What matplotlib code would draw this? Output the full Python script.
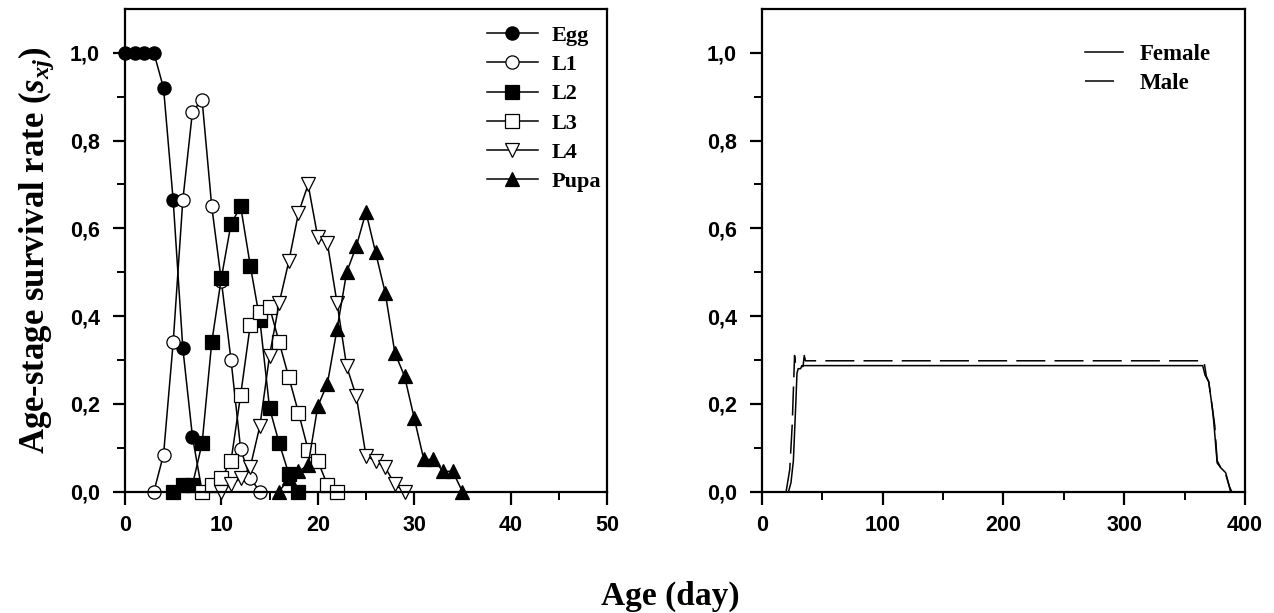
import matplotlib.pyplot as plt

# --------------------------------------------------------------
# Data
# --------------------------------------------------------------

egg_age = [0, 1, 2, 3, 4, 5, 6, 7, 8]
egg_sxj = [1.0, 1.0, 1.0, 1.0, 0.92, 0.664, 0.327, 0.125, 0.0]

l1_age = [3, 4, 5, 6, 7, 8, 9, 10, 11, 12, 13, 14]
l1_sxj = [0.0, 0.084, 0.34, 0.664, 0.866, 0.893, 0.65, 0.48, 0.30, 0.097, 0.03, 0.0]

l2_age = [5, 6, 7, 8, 9, 10, 11, 12, 13, 14, 15, 16, 17, 18]
l2_sxj = [0.0, 0.015, 0.015, 0.11, 0.34, 0.487, 0.61, 0.65, 0.515, 0.39, 0.19, 0.11, 0.04, 0.0]

l3_age = [8, 9, 10, 11, 12, 13, 14, 15, 16, 17, 18, 19, 20, 21, 22]
l3_sxj = [0.0, 0.015, 0.03, 0.07, 0.22, 0.38, 0.41, 0.42, 0.34, 0.26, 0.18, 0.095, 0.07, 0.015, 0.0]

l4_age = [10, 11, 12, 13, 14, 15, 16, 17, 18, 19, 20, 21, 22, 23, 24, 25, 26, 27, 28, 29]
l4_sxj = [0.0, 0.016, 0.03, 0.056, 0.15, 0.31, 0.43, 0.525, 0.635, 0.70, 0.58, 0.566,
          0.43, 0.285, 0.217, 0.082, 0.069, 0.055, 0.016, 0.0]

pupa_age = [16, 17, 18, 19, 20, 21, 22, 23, 24, 25, 26, 27, 28, 29, 30, 31, 32, 33, 34, 35]
pupa_sxj = [0.0, 0.03, 0.046, 0.06, 0.194, 0.246, 0.37, 0.50, 0.559, 0.637, 0.545, 0.453,
            0.316, 0.263, 0.168, 0.073, 0.073, 0.046, 0.046, 0.0]

female_age = [22, 24, 26, 28, 29, 30, 32, 33, 365, 367, 370, 373, 374, 377, 380, 384, 387, 388]
female_sxj = [0.0, 0.02, 0.07, 0.2, 0.27, 0.28, 0.28, 0.287, 0.287, 0.265, 0.25, 0.19,
              0.164, 0.065, 0.054, 0.043, 0.012, 0.0]

male_age = [20, 23, 25, 27, 28, 34, 35, 36, 366, 368, 370, 373, 375, 377, 380, 384, 387, 389]
male_sxj = [0.0, 0.05, 0.15, 0.31, 0.285, 0.285, 0.31, 0.298, 0.298, 0.263, 0.25, 0.19,
            0.15, 0.07, 0.054, 0.04, 0.012, 0.0]

stages = ["Egg", "L1", "L2", "L3", "L4", "Pupa"]

# --------------------------------------------------------------
# Plot settings
# --------------------------------------------------------------

plt.rcParams['font.family'] = ['Liberation Sans', 'DejaVu Sans']
plt.rcParams['mathtext.fontset'] = 'custom'
plt.rcParams['mathtext.rm'] = 'Liberation Serif:bold'
plt.rcParams['mathtext.it'] = 'Liberation Serif:italic:bold'

serif = ['Liberation Serif', 'DejaVu Serif']

fig = plt.figure(figsize=(12.74, 6.13), dpi=100)
ax1 = fig.add_axes([0.0981, 0.1982, 0.3783, 0.7871])
ax2 = fig.add_axes([0.5981, 0.1982, 0.3791, 0.7871])


def style_axis(ax, xlim, xmajor, xminor):
    ax.set_xlim(*xlim)
    ax.set_ylim(0, 1.1)
    ax.set_xticks(xmajor)
    ax.set_xticks(xminor, minor=True)
    ax.set_yticks([0, 0.2, 0.4, 0.6, 0.8, 1.0])
    ax.set_yticks([0.1, 0.3, 0.5, 0.7, 0.9], minor=True)
    ax.set_yticklabels(["0,0", "0,2", "0,4", "0,6", "0,8", "1,0"])
    ax.tick_params(which='major', direction='out', length=9, width=1.6,
                   labelsize=15.5, pad=8)
    ax.tick_params(which='minor', direction='out', length=6, width=1.4)
    ax.tick_params(axis='y', which='major', pad=9)
    for lab in ax.get_xticklabels() + ax.get_yticklabels():
        lab.set_fontweight('bold')
    for sp in ax.spines.values():
        sp.set_linewidth(1.6)


# --------------------------------------------------------------
# Left panel: age-stage survival
# --------------------------------------------------------------

series = [
    (egg_age, egg_sxj, 'o', 'black'),
    (l1_age, l1_sxj, 'o', 'white'),
    (l2_age, l2_sxj, 's', 'black'),
    (l3_age, l3_sxj, 's', 'white'),
    (l4_age, l4_sxj, 'v', 'white'),
    (pupa_age, pupa_sxj, '^', 'black'),
]

for (age, sxj, mk, fc), name in zip(series, stages):
    ax1.plot(age, sxj, color='black', lw=1.1, marker=mk, markersize=9.5,
             markerfacecolor=fc, markeredgecolor='black', markeredgewidth=0.9,
             label=name, clip_on=False)

style_axis(ax1, (0, 50), [0, 10, 20, 30, 40, 50], [5, 15, 25, 35, 45])
ax1.set_xticklabels(["0", "10", "20", "30", "40", "50"])
ax1.set_ylabel(r'Age-stage survival rate ($s_{xj}$)', fontsize=25,
               fontweight='bold', family=serif, labelpad=10)

ax1.legend(loc='upper left', bbox_to_anchor=(0.751, 0.966), frameon=False,
           borderpad=0, borderaxespad=0, handlelength=2.3, handletextpad=0.62,
           labelspacing=0.39, prop={'family': serif, 'weight': 'bold', 'size': 16})

# --------------------------------------------------------------
# Right panel: female / male
# --------------------------------------------------------------

ax2.plot(female_age, female_sxj, color='black', lw=1.1, label='Female')
ax2.plot(male_age, male_sxj, color='black', lw=1.1, linestyle=(0, (19, 6)),
         label='Male')

style_axis(ax2, (0, 400), [0, 100, 200, 300, 400], [50, 150, 250, 350])
ax2.set_xticklabels(["0", "100", "200", "300", "400"])

ax2.legend(loc='upper left', bbox_to_anchor=(0.669, 0.928), frameon=False,
           borderpad=0, borderaxespad=0, handlelength=1.65, handletextpad=0.75,
           labelspacing=0.37, prop={'family': serif, 'weight': 'bold', 'size': 16.5})

fig.text(0.526, 0.013, 'Age (day)', ha='center', va='baseline', fontsize=24,
         fontweight='bold', family=serif)

plt.savefig('out.png', dpi=100)
